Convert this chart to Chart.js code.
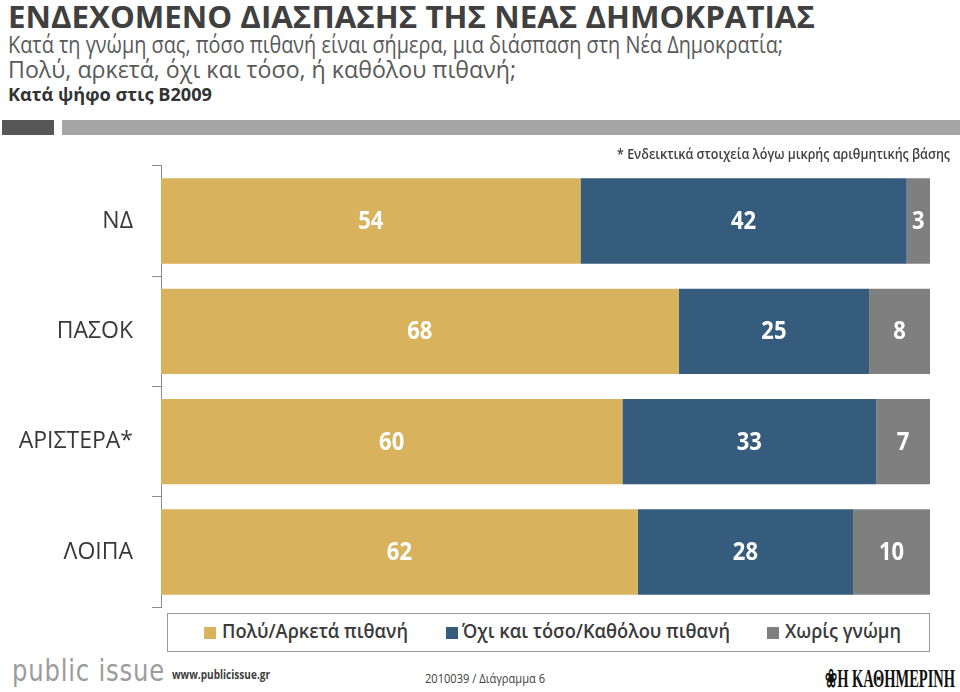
<!DOCTYPE html>
<html>
<head>
<meta charset="utf-8">
<script src="https://cdn.jsdelivr.net/npm/chart.js@4.4.1/dist/chart.umd.min.js"></script>
<style>
  html,body{margin:0;padding:0;background:#fff;}
  body{width:960px;height:692px;position:relative;overflow:hidden;font-family:"Open Sans",sans-serif;}
  .t{position:absolute;white-space:nowrap;transform-origin:0 0;line-height:1;}
  #chartWrap{position:absolute;left:0;top:133px;width:960px;height:507px;}
  .bar{position:absolute;}
  #legend{position:absolute;left:167px;top:613px;width:761px;height:37px;border:1px solid #9a9a9a;background:#fff;}
  .sq{position:absolute;width:12px;height:12px;top:13px;}
  .lt{position:absolute;top:6px;font-size:19px;font-weight:600;color:#3a3a3a;white-space:nowrap;transform-origin:0 0;line-height:1.2;}
</style>
</head>
<body>
<div class="t" id="title" data-w="807" style="left:8px;top:1px;font-size:31px;font-weight:700;color:#404040;">ΕΝΔΕΧΟΜΕΝΟ ΔΙΑΣΠΑΣΗΣ ΤΗΣ ΝΕΑΣ ΔΗΜΟΚΡΑΤΙΑΣ</div>
<div class="t" id="sub1" data-w="775" style="left:8px;top:32px;font-size:24px;color:#595959;">Κατά τη γνώμη σας, πόσο πιθανή είναι σήμερα, μια διάσπαση στη Νέα Δημοκρατία;</div>
<div class="t" id="sub2" data-w="508" style="left:8px;top:57px;font-size:24px;color:#595959;">Πολύ, αρκετά, όχι και τόσο, ή καθόλου πιθανή;</div>
<div class="t" id="sub3" data-w="204" style="left:8px;top:86px;font-size:17px;font-weight:700;color:#333;">Κατά ψήφο στις Β2009</div>
<div class="bar" style="left:2px;top:120px;width:52px;height:15px;background:#575757;"></div>
<div class="bar" style="left:62px;top:120px;width:898px;height:15px;background:#a6a6a6;"></div>

<div id="chartWrap"><canvas id="c"></canvas></div>

<div class="t" id="note" data-w="333" style="left:617px;top:147px;font-size:14px;font-weight:600;color:#404040;">* Ενδεικτικά στοιχεία λόγω μικρής αριθμητικής βάσης</div>

<div id="legend">
  <div class="sq" style="left:36px;background:#D8B25C;"></div>
  <div class="lt" data-w="186" style="left:54px;">Πολύ/Αρκετά πιθανή</div>
  <div class="sq" style="left:278px;background:#365C7D;"></div>
  <div class="lt" data-w="268" style="left:294px;">Όχι και τόσο/Καθόλου πιθανή</div>
  <div class="sq" style="left:599px;background:#7F7F7F;"></div>
  <div class="lt" data-w="116" style="left:617px;">Χωρίς γνώμη</div>
</div>

<div class="t" id="logo" data-w="153" style="left:12px;top:656px;font-size:30px;color:#9c9c9c;font-family:'DejaVu Sans',sans-serif;letter-spacing:1px;">public issue</div>
<div class="t" id="www" data-w="98" style="left:172px;top:669px;font-size:12px;font-weight:700;color:#404040;">www.publicissue.gr</div>
<div class="t" id="code" data-w="120" style="left:425px;top:673px;font-size:12px;color:#404040;">2010039 / Διάγραμμα 6</div>
<div class="t" id="kath" data-w="130" style="left:825px;top:666px;font-size:25px;color:#111;font-family:'Liberation Serif',serif;font-weight:700;">&#10048;Η ΚΑΘΗΜΕΡΙΝΗ</div>

<script>
const categories = ["ΝΔ", "ΠΑΣΟΚ", "ΑΡΙΣΤΕΡΑ*", "ΛΟΙΠΑ"];
const likely = [54, 68, 60, 62];
const notLikely = [42, 25, 33, 28];
const noOpinion = [3, 8, 7, 10];
const seriesNames = ["Πολύ/Αρκετά πιθανή", "Όχι και τόσο/Καθόλου πιθανή", "Χωρίς γνώμη"];
const seriesColors = ["#D8B25C", "#365C7D", "#7F7F7F"];

// fit text widths
document.querySelectorAll('[data-w]').forEach(el => {
  const target = +el.dataset.w;
  const w = el.getBoundingClientRect().width;
  if (w > 0) el.style.transform = 'scaleX(' + (target / w) + ')';
});

const raw = [likely, notLikely, noOpinion];
const totals = categories.map((_, i) => likely[i] + notLikely[i] + noOpinion[i]);
const datasets = raw.map((arr, k) => ({
  label: seriesNames[k],
  data: arr.map((v, i) => v / totals[i] * 100),
  rawValues: arr,
  backgroundColor: seriesColors[k],
  borderWidth: 0,
  barPercentage: 0.773,
  categoryPercentage: 1.0
}));

const labelPlugin = {
  id: 'valueLabels',
  afterDatasetsDraw(chart) {
    const ctx = chart.ctx;
    ctx.save();
    ctx.font = 'bold 25px "Open Sans", sans-serif';
    ctx.fillStyle = '#ffffff';
    ctx.textAlign = 'center';
    ctx.textBaseline = 'middle';
    chart.data.datasets.forEach((ds, di) => {
      const meta = chart.getDatasetMeta(di);
      meta.data.forEach((bar, i) => {
        const cx = (bar.x + bar.base) / 2;
        ctx.save();
        ctx.translate(cx, bar.y + 1);
        ctx.scale(0.88, 1);
        ctx.fillText(String(ds.rawValues[i]), 0, 0);
        ctx.restore();
      });
    });
    ctx.restore();
  }
};

new Chart(document.getElementById('c'), {
  type: 'bar',
  data: { labels: categories, datasets },
  plugins: [labelPlugin],
  options: {
    indexAxis: 'y',
    responsive: true,
    maintainAspectRatio: false,
    animation: false,
    layout: { padding: { top: 10, bottom: 10, right: 30, left: 0 } },
    plugins: { legend: { display: false }, tooltip: { enabled: false } },
    scales: {
      x: { stacked: true, min: 0, max: 100, display: false },
      y: {
        stacked: true,
        afterFit(scale) { scale.width = 161; },
        grid: { offset: true, drawOnChartArea: false, drawTicks: true, tickLength: 9, color: '#8c8c8c', lineWidth: 1 },
        border: { display: true, color: '#8c8c8c', width: 1 },
        ticks: { color: '#383838', font: { size: 23, family: '"Open Sans", sans-serif' }, padding: 19 }
      }
    }
  }
});
</script>
</body>
</html>
